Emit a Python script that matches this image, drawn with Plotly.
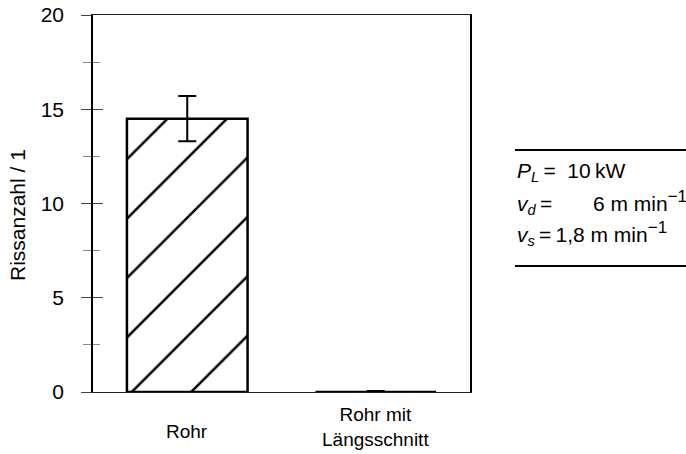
import plotly.graph_objects as go

# Crack counts per specimen type
categories = ["Rohr", "Rohr mit Längsschnitt"]
category_labels = ["Rohr", "Rohr mit<br>Längsschnitt"]
crack_counts = [14.5, 0.0]
crack_errors = [1.2, 0.05]

y_ticks = [0, 5, 10, 15, 20]
y_title = "Rissanzahl / 1"

NB = "\u00a0"
SUP = '<sup><span style="font-size:17px">\u22121</span></sup>'

# Process parameters shown beside the plot
param_rows = [
    "<i>P</i><sub><i>L</i></sub>\u2009=" + NB * 2 + "10\u2009kW",
    "<i>v</i><sub><i>d</i></sub>\u2009=" + NB * 7 + "6" + NB + "m" + NB + "min" + SUP,
    "<i>v</i><sub><i>s</i></sub>\u2009=\u20091,8" + NB + "m" + NB + "min" + SUP,
]

FONT = "Liberation Sans, Arial, Helvetica, sans-serif"

# plot area in pixels (for placing paper-referenced decorations)
L, T, W, H = 93, 15, 377, 377


def px_x(x):
    return (x - L) / W


def px_y(y):
    return 1 - (y - T) / H


fig = go.Figure()

fig.add_trace(go.Bar(
    x=categories,
    y=crack_counts,
    width=0.64,
    marker=dict(
        color="white",
        line=dict(color="black", width=2.5),
        pattern=dict(shape="/", fgcolor="black", bgcolor="white",
                     fgopacity=1, size=42, solidity=0.06, fillmode="overlay"),
    ),
    error_y=dict(type="data", array=crack_errors, visible=True,
                 color="black", thickness=2, width=9),
    showlegend=False,
))

# Invisible trace carrying the inner tick axis
fig.add_trace(go.Scatter(x=categories, y=[None, None], yaxis="y2",
                         mode="markers", showlegend=False, hoverinfo="skip"))

label_y = [432, 427]
for cat, lab, yy in zip(categories, category_labels, label_y):
    fig.add_annotation(x=cat, y=px_y(yy), xref="x", yref="paper",
                       text=lab, showarrow=False, xanchor="center",
                       yanchor="middle", font=dict(size=19, color="black"))

row_y = [172, 203, 233]
for txt, yy in zip(param_rows, row_y):
    fig.add_annotation(x=px_x(515), y=px_y(yy), xref="paper", yref="paper",
                       text=txt, showarrow=False, xanchor="left",
                       yanchor="middle", align="left",
                       font=dict(size=21, color="black"))

# y-axis title
fig.add_annotation(x=px_x(17), y=px_y(215), xref="paper", yref="paper",
                   text=y_title, textangle=-90, showarrow=False,
                   xanchor="center", yanchor="middle",
                   font=dict(size=21, color="black"))

fig.update_layout(
    width=686, height=454,
    margin=dict(l=L, r=686 - L - W, t=T, b=454 - T - H, autoexpand=False),
    paper_bgcolor="white", plot_bgcolor="white",
    font=dict(family=FONT, color="black"),
    xaxis=dict(
        type="category",
        range=[-0.5, 1.5],
        showticklabels=False,
        ticks="",
        showline=True, linecolor="#222", linewidth=1.2, mirror=True,
        showgrid=False, zeroline=False,
    ),
    yaxis=dict(
        range=[0, 20],
        tickvals=y_ticks,
        ticks="outside", ticklen=10, tickwidth=1, tickcolor="#444",
        minor=dict(dtick=2.5, tick0=0, ticks="outside", ticklen=8,
                   tickwidth=1, tickcolor="#888"),
        tickfont=dict(size=21),
        ticklabelstandoff=13,
        showline=True, linecolor="black", linewidth=1.6, mirror=True,
        showgrid=False, zeroline=False,
    ),
    yaxis2=dict(
        overlaying="y", side="left", range=[0, 20],
        tickvals=y_ticks,
        ticks="inside", ticklen=10, tickwidth=1, tickcolor="#444",
        minor=dict(dtick=2.5, tick0=0, ticks="inside", ticklen=7,
                   tickwidth=1, tickcolor="#888"),
        showticklabels=False, showline=False, showgrid=False, zeroline=False,
    ),
)

# Rules above and below the parameter block
for yy in (150, 266):
    fig.add_shape(type="line", xref="paper", yref="paper",
                  x0=px_x(515), x1=px_x(690), y0=px_y(yy), y1=px_y(yy),
                  line=dict(color="black", width=2))

fig.write_html("out.html")
